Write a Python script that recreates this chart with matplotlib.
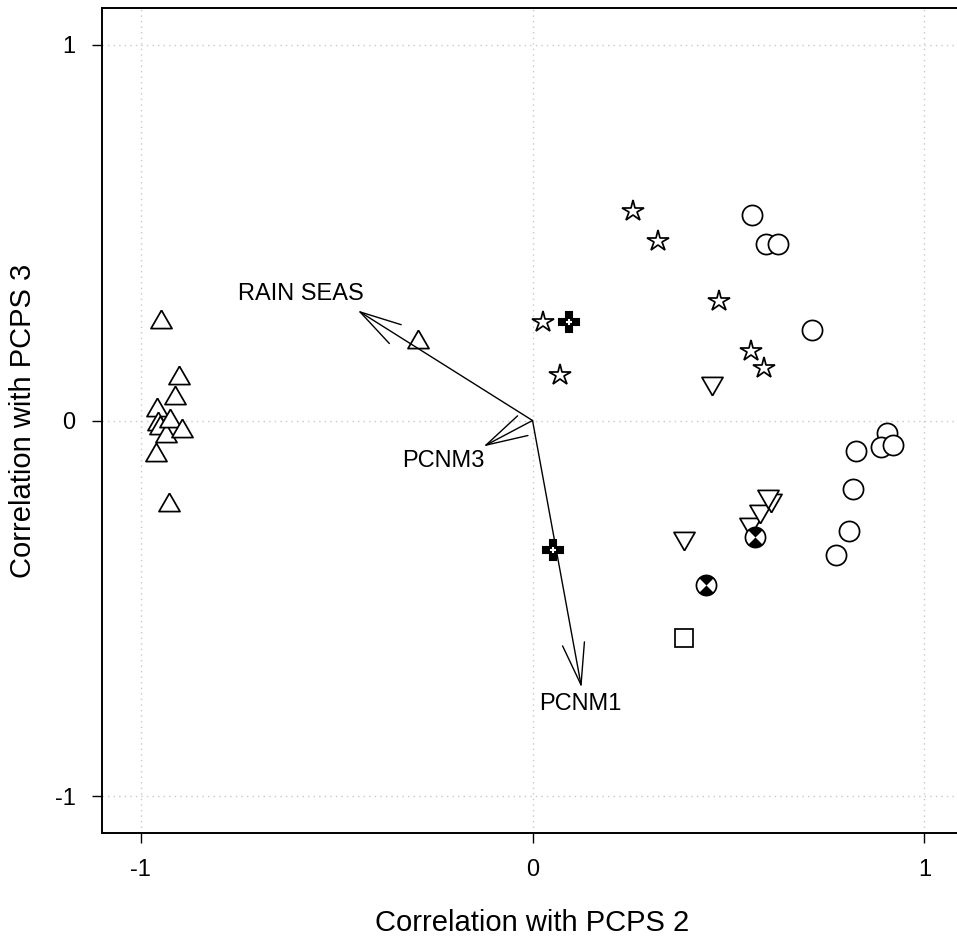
import numpy as np
import matplotlib
matplotlib.use("Agg")
import matplotlib.pyplot as plt
from matplotlib.path import Path

plt.rcParams["font.family"] = ["Liberation Sans", "DejaVu Sans"]

# ---------------------------------------------------------------- data
# open up-triangles (left cluster + one on the RAIN SEAS arrow)
tri_up_x = [-0.948, -0.902, -0.911, -0.958, -0.955, -0.950, -0.935, -0.924, -0.895, -0.962, -0.928, -0.293]
tri_up_y = [0.261, 0.112, 0.059, 0.027, -0.008, -0.021, -0.040, 0.000, -0.027, -0.091, -0.226, 0.208]

# open stars
star_x = [0.257, 0.321, 0.028, 0.071, 0.476, 0.558, 0.591]
star_y = [0.557, 0.477, 0.261, 0.120, 0.317, 0.184, 0.141]

# filled crosses
cross_x = [0.094, 0.051]
cross_y = [0.261, -0.346]

# open circles
circ_x = [0.561, 0.596, 0.627, 0.713, 0.905, 0.888, 0.919, 0.826, 0.818, 0.807, 0.774]
circ_y = [0.546, 0.469, 0.469, 0.240, -0.033, -0.071, -0.065, -0.082, -0.182, -0.295, -0.357]

# circles with filled hourglass
hour_x = [0.568, 0.443]
hour_y = [-0.309, -0.439]

# open down-triangles
tri_dn_x = [0.459, 0.387, 0.555, 0.581, 0.609, 0.601]
tri_dn_y = [0.099, -0.312, -0.275, -0.242, -0.213, -0.200]

# open square
sq_x = [0.387]
sq_y = [-0.578]

# environmental vectors
vec_names = ["RAIN SEAS", "PCNM3", "PCNM1"]
vec_x = [-0.446, -0.125, 0.125]
vec_y = [0.293, -0.069, -0.711]
lab_x = [-0.591, -0.227, 0.122]
lab_y = [0.338, -0.109, -0.754]

ticks = [-1, 0, 1]

# ---------------------------------------------------------------- figure
fig = plt.figure(figsize=(9.57, 9.38), dpi=100)
ax = fig.add_axes([0.1066, 0.1119, 0.8997, 0.8796])
ax.set_xlim(-1.0985, 1.0985)
ax.set_ylim(-1.0985, 1.0985)

for t in ticks:
    ax.axvline(t, color="#c8c8c8", lw=1.0, ls=(0, (1, 3)), zorder=0)
    ax.axhline(t, color="#c8c8c8", lw=1.0, ls=(0, (1, 3)), zorder=0)

MEW = 1.25
tri_up = [(0, 1), (-0.866, -0.5), (0.866, -0.5), (0, 1)]
tri_dn = [(0, -1), (-0.866, 0.5), (0.866, 0.5), (0, -1)]

ax.plot(circ_x, circ_y, "o", ms=14.5, mfc="white", mec="black", mew=MEW, ls="none", zorder=2)
ax.plot(tri_dn_x, tri_dn_y, marker=tri_dn, ms=17.5, mfc="white", mec="black", mew=MEW, ls="none", zorder=2)
ax.plot(tri_up_x, tri_up_y, marker=tri_up, ms=17.5, mfc="white", mec="black", mew=MEW, ls="none", zorder=2)
ax.plot(star_x, star_y, "*", ms=16, mfc="white", mec="black", mew=MEW, ls="none", zorder=2)
ax.plot(sq_x, sq_y, "s", ms=12.5, mfc="white", mec="black", mew=MEW, ls="none", zorder=2)

# filled cross with small white plus in the middle
ax.plot(cross_x, cross_y, "P", ms=15, mfc="black", mec="black", mew=1.5, ls="none", zorder=4)
ax.plot(cross_x, cross_y, "+", ms=5, mec="white", mew=1.5, ls="none", zorder=5)

# circle with black top/bottom wedges
wedges = Path.make_compound_path(Path.wedge(45, 135), Path.wedge(225, 315))
scale = np.abs(wedges.vertices).max()
ax.plot(hour_x, hour_y, "o", ms=14.5, mfc="white", mec="black", mew=MEW, ls="none", zorder=2)
ax.plot(hour_x, hour_y, marker=wedges, ms=14.5 * scale, mfc="black", mec="black", mew=0,
        ls="none", zorder=2)

# arrows
for name, vx, vy, lx, ly in zip(vec_names, vec_x, vec_y, lab_x, lab_y):
    ax.annotate("", xy=(vx, vy), xytext=(0, 0),
                arrowprops=dict(arrowstyle="->,head_length=3.0,head_width=0.8",
                                mutation_scale=10, lw=1.0, color="black",
                                shrinkA=0, shrinkB=0), zorder=3)
    ax.text(lx, ly, name, ha="center", va="center", fontsize=17, zorder=3)

for side in ("top", "left", "bottom"):
    ax.spines[side].set_linewidth(1.4)
ax.spines["right"].set_visible(False)

ax.set_xticks(ticks)
ax.set_yticks(ticks)
ax.set_xticklabels([str(t) for t in ticks])
ax.set_yticklabels([str(t) for t in ticks])
ax.tick_params(direction="out", length=7, width=1.0, labelsize=17, pad=12)

ax.set_xlabel("Correlation with PCPS 2", fontsize=21, labelpad=20)
ax.set_ylabel("Correlation with PCPS 3", fontsize=21, labelpad=13)

fig.savefig("out.png", dpi=100)
